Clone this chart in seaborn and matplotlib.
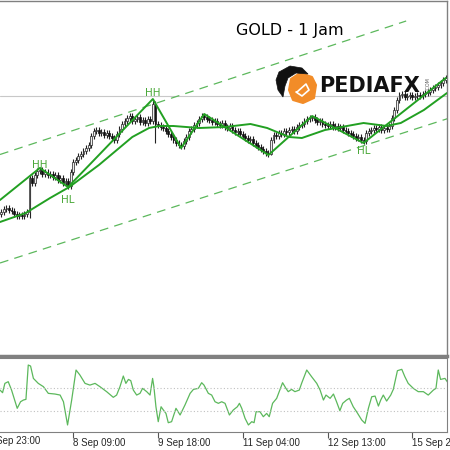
import numpy as np
import pandas as pd
import matplotlib
matplotlib.use("Agg")
import matplotlib.pyplot as plt
from matplotlib.patches import Polygon
import seaborn as sns

# hourly closes
closes = [1953.8, 1954.1, 1954.2, 1954.0, 1953.9, 1953.6, 1953.4, 1953.5, 1953.4, 1953.6,
          1953.8, 1957.2, 1956.7, 1957.5, 1957.9, 1958.0, 1957.6, 1957.8, 1957.5, 1957.6,
          1957.3, 1957.5, 1957.0, 1957.2, 1956.7, 1956.9, 1956.4, 1957.8, 1958.8, 1959.0,
          1959.4, 1959.6, 1959.9, 1960.2, 1960.5, 1961.4, 1961.9, 1962.0, 1961.7, 1961.8,
          1961.5, 1961.7, 1961.4, 1961.2, 1961.0, 1961.6, 1962.1, 1962.6, 1962.9, 1963.2,
          1963.4, 1962.9, 1963.1, 1963.3, 1962.8, 1963.0, 1962.7, 1963.1, 1962.9, 1964.6,
          1962.6, 1962.5, 1962.3, 1962.2, 1961.9, 1961.6, 1961.3, 1961.0, 1960.7, 1960.5,
          1960.4, 1960.9, 1961.3, 1961.9, 1962.1, 1962.5, 1962.7, 1963.1, 1963.4, 1963.3,
          1963.1, 1963.0, 1962.8, 1962.9, 1962.6, 1962.5, 1962.7, 1962.3, 1962.2, 1962.4,
          1962.0, 1961.8, 1961.9, 1961.6, 1961.4, 1961.2, 1961.0, 1961.1, 1960.7, 1960.5,
          1960.3, 1960.1, 1959.9, 1959.7, 1959.6, 1961.0, 1961.5, 1961.4, 1961.7, 1961.6,
          1961.9, 1961.8, 1962.0, 1962.1, 1961.9, 1962.3, 1962.5, 1962.6, 1962.9, 1963.1,
          1963.2, 1963.3, 1963.0, 1962.8, 1962.9, 1962.6, 1962.5, 1962.4, 1962.6, 1962.3,
          1962.4, 1962.2, 1962.3, 1962.0, 1961.9, 1961.7, 1961.6, 1961.4, 1961.2, 1961.3,
          1961.0, 1960.9, 1961.7, 1961.9, 1962.0, 1962.2, 1962.1, 1962.3, 1962.0, 1962.2,
          1962.1, 1962.4, 1963.2, 1964.0, 1965.0, 1965.5, 1965.6, 1965.3, 1965.4, 1965.5,
          1965.3, 1965.4, 1965.5, 1965.4, 1965.6, 1965.7, 1965.8, 1966.0, 1966.2, 1966.3,
          1966.5, 1966.7, 1967.0, 1967.2]
first_open = 1953.6
wick = 0.3
long_highs = {59: 1965.1, 79: 1963.6, 121: 1963.4}
long_lows = {11: 1953.2, 12: 1956.4, 60: 1960.7, 105: 1959.5, 142: 1960.6}

# moving average (bar, price)
ma_bar = [-0.5, 9.5, 19, 26.5, 38, 51, 57.5, 61.5, 67, 77, 87, 97, 103.5, 112, 117,
          126, 141, 150, 155.5, 164.5, 173.5]
ma_val = [1952.8, 1953.7, 1955.2, 1956.3, 1958.5, 1961.3, 1962.2, 1962.4, 1962.4, 1962.2,
          1962.3, 1962.6, 1962.2, 1961.3, 1961.2, 1962.0, 1962.7, 1962.4, 1962.7, 1964.0,
          1965.7]

# zigzag pivots
zz_bar = [-0.5, 15, 26, 59, 70, 79, 104, 121, 141, 173]
zz_val = [1955.0, 1958.2, 1956.3, 1965.1, 1960.2, 1963.6, 1959.5, 1963.4, 1960.7, 1967.2]
zz_text = ["", "HH", "HL", "HH", "", "", "", "", "HL", ""]
zz_text_off = [0, 0.3, -1.25, 0.6, 0, 0, 0, 0, -0.8, 0]

# channel lines
upper_bar = [-0.5, 157.6]
upper_val = [1959.55, 1972.9]
lower_bar = [-0.5, 174.5]
lower_val = [1948.7, 1963.2]
hline_price = 1965.4

# oscillator
osc_bar = [-0.5, 0.5, 1.4, 2.7, 4.0, 6.2, 7.5, 8.6, 9.6, 10.5, 11.4, 12.5, 14.4, 16.4, 18.3,
           20.9, 22.9, 24.2, 25.8, 27.4, 29.1, 30.6, 32.6, 34.5, 36.5, 38.4, 41.0, 43.6, 44.9,
           46.2, 47.5, 48.5, 49.5, 50.4, 51.4, 52.7, 54.0, 55.0, 56.6, 57.9, 58.9, 59.4, 60.2,
           61.1, 62.2, 63.1, 64.1, 65.0, 66.3, 68.0, 69.6, 71.5, 73.5, 74.8, 76.7, 78.0, 78.9,
           80.6, 81.9, 83.2, 84.5, 85.8, 87.1, 88.8, 90.3, 91.9, 92.7, 93.6, 94.9, 96.2, 97.5,
           98.4, 99.2, 100.7, 102.0, 103.3, 104.3, 105.6, 107.2, 109.5, 110.8, 111.7, 113.0,
           114.3, 116.0, 116.9, 118.9, 120.8, 122.8, 124.1, 125.4, 126.4, 128.0, 129.3, 130.5,
           131.8, 132.9, 134.4, 135.5, 137.0, 138.3, 140.3, 141.6, 142.9, 144.2, 145.5, 146.8,
           147.7, 148.7, 150.0, 151.6, 152.6, 154.2, 155.9, 157.1, 158.4, 160.4, 162.3, 164.3,
           166.2, 168.2, 169.2, 170.1, 171.0, 172.7, 173.6, 174.7]
osc_val = [85, 62, 144, 159, 85, -76, -18, -3, 3, 306, 297, 188, 144, 115, 56,
           50, 41, -18, -223, -3, 262, 218, 144, 129, 144, 115, 71, 21, 41,
           115, 209, 144, 179, 168, 85, 41, 56, 100, 71, 41, 188, 115, -62,
           -194, -62, -91, -121, -203, -194, -76, -135, -47, 56, 91, 100, 150, 129,
           56, 41, -18, -32, -18, -32, -135, -91, -62, -32, -76, -165, -223, -194,
           -203, -106, -106, -150, -121, -150, -32, 12, 150, 100, 71, 91,
           71, 85, 144, 262, 203, 144, 85, -3, 41, 12, 50, -18,
           -97, -32, -3, 12, -62, -106, -179, -209, -76, 26, 32, -56,
           -3, 41, -12, 41, 91, 256, 268, 203, 144, 100, 71, 71,
           41, 85, 100, 262, 179, 188, 159, 115]
osc_levels = [100, -100]

tick_bars = [28, 61, 94, 127, 160]
tick_labels = ["8 Sep 09:00", "9 Sep 18:00", "11 Sep 04:00", "12 Sep 13:00", "15 Sep 22:00"]
first_label = "7 Sep 23:00"
first_label_bar = -5

sns.set_style("white")
plt.rcParams["font.family"] = ["DejaVu Sans"]

green = "#22a022"
W, H = 450, 450
fig = plt.figure(figsize=(4.5, 4.5), dpi=100)
ax = fig.add_axes([0, 1 - 356 / H, 447 / W, 355 / H])
ax2 = fig.add_axes([0, 1 - 432 / H, 447 / W, 74 / H])

# candles
df = pd.DataFrame({"close": closes})
df["open"] = [first_open] + closes[:-1]
df["high"] = df[["open", "close"]].max(axis=1) + wick
df["low"] = df[["open", "close"]].min(axis=1) - wick
for k, v in long_highs.items():
    df.loc[k, "high"] = v
for k, v in long_lows.items():
    df.loc[k, "low"] = v
df["bar"] = np.arange(len(df))
up = df["close"] >= df["open"]
ax.vlines(df["bar"], df["low"], df["high"], color="#222222", lw=0.8, zorder=2)
body = (df["close"] - df["open"]).abs().clip(lower=0.08)
bottom = df[["open", "close"]].min(axis=1)
ax.bar(df["bar"][up], body[up], bottom=bottom[up], width=0.7, color="#eeeeee",
       edgecolor="#222222", linewidth=0.5, zorder=3)
ax.bar(df["bar"][~up], body[~up], bottom=bottom[~up], width=0.7, color="#111111",
       edgecolor="#111111", linewidth=0.5, zorder=3)

ax.axhline(hline_price, color="#c8c8c8", lw=0.8, zorder=1)
ax.plot(upper_bar, upper_val, color="#5cb85c", lw=0.9, dashes=(7, 5), zorder=1)
ax.plot(lower_bar, lower_val, color="#5cb85c", lw=0.9, dashes=(7, 5), zorder=1)

sns.lineplot(x=ma_bar, y=ma_val, ax=ax, color=green, lw=1.4, sort=False, estimator=None, zorder=4)
sns.lineplot(x=zz_bar, y=zz_val, ax=ax, color=green, lw=1.4, sort=False, estimator=None, zorder=4)
for b, v, t, o in zip(zz_bar, zz_val, zz_text, zz_text_off):
    if t:
        ax.text(b, v + o, t, color="#4aa838", fontsize=7.5, ha="center", va="center", zorder=5)

ax.set_xlim(-0.5, 173.5)
ax.set_ylim(1939.4, 1974.9)
ax.set_xticks([])
ax.set_yticks([])
ax.spines["left"].set_visible(False)
ax.spines["top"].set_color("#808080")
ax.spines["right"].set_color("#808080")
ax.spines["top"].set_linewidth(1.0)
ax.spines["right"].set_linewidth(1.0)
ax.spines["bottom"].set_color("#808080")
ax.spines["bottom"].set_linewidth(2.5)

# title and logo
fig.text(290 / W, 1 - 30 / H, "GOLD - 1 Jam", fontsize=11.5, ha="center", va="center", color="black")
fig.text(370 / W, 1 - 86 / H, "PEDIAFX", fontsize=15, fontweight="bold", ha="center", va="center",
         color="#111111")
fig.text(428 / W, 1 - 84 / H, ".COM", fontsize=3.5, rotation=90, ha="center", va="center", color="#555555")
orange = [(300, 73), (312, 77), (316, 85), (314, 98), (303, 103), (293, 100), (289, 90), (291, 79)]
fig.patches.append(Polygon([(x / W, 1 - y / H) for x, y in orange], closed=True,
                           facecolor="#f28c28", edgecolor="#f28c28", lw=1.5, joinstyle="round",
                           transform=fig.transFigure, figure=fig))
swoosh = [(279, 72), (290, 66), (302, 68), (308, 74), (296, 73), (288, 78), (285, 86), (283, 97),
          (278, 90), (276, 80)]
fig.patches.append(Polygon([(x / W, 1 - y / H) for x, y in swoosh], closed=True,
                           facecolor="#111111", edgecolor="#111111", lw=0.5,
                           transform=fig.transFigure, figure=fig))
fig.lines.append(plt.Line2D([297 / W, 306 / W, 309 / W, 302 / W, 296 / W],
                            [1 - 92 / H, 1 - 84 / H, 1 - 90 / H, 1 - 96 / H, 1 - 92 / H],
                            color="white", lw=1.2, transform=fig.transFigure))

# oscillator panel
sns.lineplot(x=osc_bar, y=osc_val, ax=ax2, color="#5cb85c", lw=0.9, sort=False, estimator=None)
for lv in osc_levels:
    ax2.axhline(lv, color="#c0c0c0", lw=0.8, ls=(0, (1, 2)))
ax2.set_xlim(-0.5, 173.5)
ax2.set_ylim(-285, 368)
ax2.set_yticks([])
ax2.set_xticks(tick_bars)
ax2.set_xticklabels(tick_labels, fontsize=7, family="Liberation Sans", ha="left")
ax2.tick_params(axis="x", length=4, width=0.8, color="#555555", pad=0.5, bottom=True)
ax2.text(first_label_bar, -0.055, first_label, fontsize=7, family="Liberation Sans", ha="left",
         va="top", transform=ax2.get_xaxis_transform(), clip_on=False)
ax2.spines["left"].set_visible(False)
ax2.spines["top"].set_color("#808080")
ax2.spines["top"].set_linewidth(1.5)
for s in ["right", "bottom"]:
    ax2.spines[s].set_color("#808080")
    ax2.spines[s].set_linewidth(0.8)

fig.savefig("out.png", dpi=100)
